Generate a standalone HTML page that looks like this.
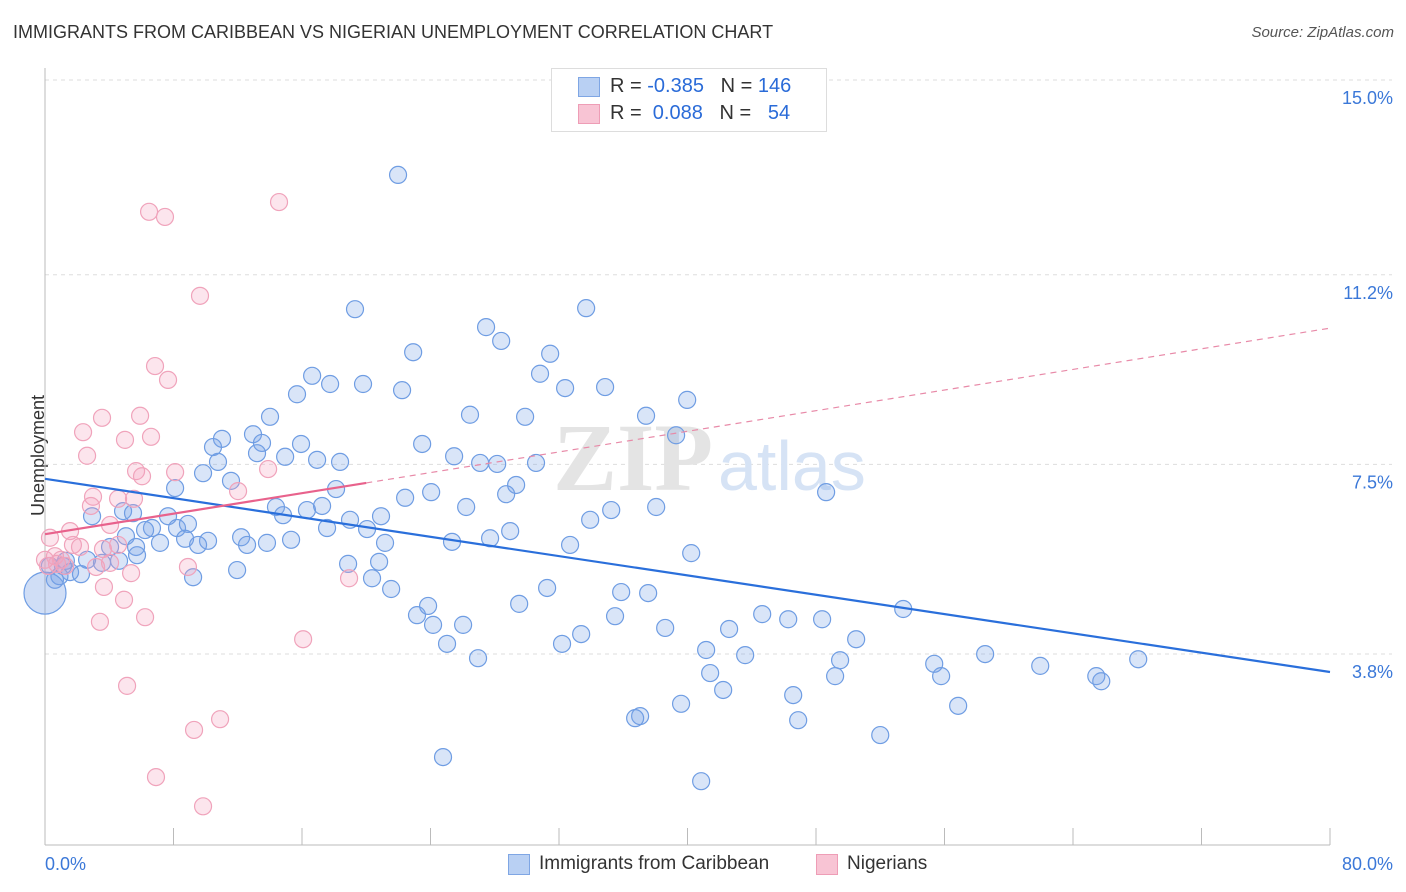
<!DOCTYPE html>
<html><head><meta charset="utf-8">
<style>
body{margin:0;background:#fff;font-family:"Liberation Sans",sans-serif;}
#wrap{position:relative;width:1406px;height:892px;overflow:hidden;}
.t{position:absolute;white-space:nowrap;}
</style></head>
<body>
<div id="wrap">
<div class="t" style="left:13px;top:22px;font-size:18px;color:#333;">IMMIGRANTS FROM CARIBBEAN VS NIGERIAN UNEMPLOYMENT CORRELATION CHART</div>
<div class="t" style="right:12px;top:24px;font-size:15px;color:#555;font-style:italic;">Source: ZipAtlas.com</div>
<div class="t" style="left:-22px;top:445px;font-size:18px;color:#333;transform:rotate(-90deg);">Unemployment</div>
<svg id="plot" width="1406" height="892" style="position:absolute;left:0;top:0"></svg>
<div style="position:absolute;left:551px;top:68px;width:274px;height:62px;border:1px solid #ddd;background:#fff;font-size:20px;">
 <div style="position:absolute;left:26px;top:8px;width:20px;height:18px;background:#b9d0f3;border:1px solid #7fa6e4;"></div>
 <div class="t" style="left:58px;top:6px;color:#333;">R = <span style="color:#2a6bd8">-0.385</span>&nbsp;&nbsp;&nbsp;N = <span style="color:#2a6bd8">146</span></div>
 <div style="position:absolute;left:26px;top:35px;width:20px;height:18px;background:#f8c4d4;border:1px solid #ee9db6;"></div>
 <div class="t" style="left:58px;top:33px;color:#333;">R = &nbsp;<span style="color:#2a6bd8">0.088</span>&nbsp;&nbsp;&nbsp;N = &nbsp;&nbsp;<span style="color:#2a6bd8">54</span></div>
</div>
<div style="position:absolute;left:508px;top:854px;width:20px;height:19px;background:#b9d0f3;border:1px solid #7fa6e4;"></div>
<div class="t" style="left:539px;top:853px;font-size:19px;color:#333;">Immigrants from Caribbean</div>
<div style="position:absolute;left:816px;top:854px;width:20px;height:19px;background:#f8c4d4;border:1px solid #ee9db6;"></div>
<div class="t" style="left:847px;top:853px;font-size:19px;color:#333;">Nigerians</div>
</div>
<script>
const xTicks=[0,10,20,30,40,50,60,70,80];
const yTicks=[15.0,11.2,7.5,3.8];
const yTickLabels=["15.0%","11.2%","7.5%","3.8%"];
const xEndLabels=["0.0%","80.0%"];
const caribX=[21.98,19.30,33.69,27.46,28.40,22.92,31.45,30.82,16.63,15.69,17.75,19.80,22.23,32.38,34.87,39.98,14.01,26.46,29.89,37.42,12.95,11.02,10.46,13.51,15.94,23.48,39.29,13.20,14.95,10.77,16.94,18.37,25.47,27.09,28.15,30.57,9.84,11.58,8.10,18.12,29.33,28.71,24.04,22.42,48.63,14.38,16.31,17.25,26.22,35.25,38.05,2.93,4.86,5.48,7.66,14.82,18.99,20.92,33.94,6.66,6.23,8.22,8.90,17.56,20.05,28.96,5.04,7.16,8.72,10.15,12.21,13.82,15.32,21.17,25.34,27.71,32.69,4.05,5.67,9.53,12.58,2.62,4.61,5.73,40.23,18.87,20.80,1.12,0.62,1.56,2.24,3.55,9.22,11.96,20.36,21.55,31.26,35.87,37.55,23.85,29.52,23.16,24.16,26.03,35.49,44.65,46.27,48.38,53.43,33.38,38.61,42.59,32.19,25.03,26.96,41.16,43.59,50.50,49.50,55.36,55.79,58.53,61.96,65.45,65.76,68.06,41.41,49.19,42.22,46.58,39.60,56.85,37.05,36.74,46.89,52.00,24.78,40.85,1.3,0.3,0.9];
const caribY=[13.48,10.86,10.88,10.51,10.24,10.02,9.99,9.60,9.56,9.20,9.40,9.40,9.28,9.32,9.34,9.09,8.76,8.80,8.76,8.78,8.42,8.33,8.17,8.25,8.23,8.23,8.40,8.05,7.98,7.88,7.92,7.88,7.99,7.86,7.84,7.86,7.66,7.51,7.37,7.35,7.43,7.25,7.29,7.18,7.29,7.00,6.94,7.02,7.00,6.94,7.00,6.82,6.92,6.88,6.82,6.84,6.75,6.82,6.75,6.59,6.55,6.59,6.67,6.59,6.57,6.53,6.43,6.30,6.38,6.34,6.41,6.30,6.36,6.30,6.32,6.39,6.26,6.22,6.22,6.26,6.26,5.97,5.95,6.06,6.10,5.89,5.93,5.85,5.58,5.73,5.69,5.91,5.63,5.77,5.61,5.40,5.42,5.34,5.32,5.07,5.11,4.89,4.70,4.70,4.87,4.91,4.81,4.81,5.01,4.52,4.64,4.62,4.33,4.33,4.05,4.21,4.11,4.42,4.01,3.94,3.70,4.13,3.90,3.70,3.60,4.03,3.76,3.70,3.43,3.33,3.16,3.12,2.92,2.88,2.84,2.55,2.12,1.65,5.95,5.85,5.65];
const nigX=[6.48,7.47,14.57,9.65,6.85,7.66,3.55,5.92,2.37,4.98,6.60,2.62,5.67,6.04,8.10,13.89,12.02,2.99,2.86,4.55,5.54,4.05,1.56,0.31,1.74,3.61,4.55,0.62,1.00,1.25,2.18,0.19,3.18,4.05,5.36,8.90,18.93,3.67,4.92,6.23,3.42,16.07,5.11,10.90,9.28,6.91,9.84,0.75,0];
const nigY=[12.76,12.66,12.95,11.12,9.75,9.48,8.74,8.78,8.46,8.31,8.37,8.00,7.70,7.60,7.68,7.74,7.31,7.20,7.02,7.16,7.16,6.65,6.53,6.40,6.26,6.18,6.26,6.04,5.97,5.85,6.22,5.85,5.83,5.91,5.71,5.83,5.61,5.44,5.19,4.85,4.76,4.42,3.51,2.86,2.65,1.73,1.16,5.89,5.97];
const caribTrend=[7.55,3.78];
const nigTrend=[6.47,7.47,10.49];
const bigPoint=[0,5.32];

const NS="http://www.w3.org/2000/svg";
const svg=document.getElementById('plot');
const X=v=>45+v/80*1285;
const Y=v=>97+(15-v)*51.25;
function mk(tag,attrs){const e=document.createElementNS(NS,tag);for(const k in attrs)e.setAttribute(k,attrs[k]);svg.appendChild(e);return e;}

yTicks.forEach((v,i)=>{
 const g=mk('line',{x1:45,x2:1392,y1:Y(v)-17,y2:Y(v)-17,stroke:'#ddd','stroke-dasharray':'4,4'});
 
 
 const t=mk('text',{x:1393,y:Y(v)+7,'text-anchor':'end','font-size':18,fill:'#3b78d8','font-family':'Liberation Sans'});
 t.textContent=yTickLabels[i];
 
 
});
const ax=mk('line',{x1:45,x2:45,y1:68,y2:845,stroke:'#bbb'});


const bx=mk('line',{x1:45,x2:1330,y1:845,y2:845,stroke:'#bbb'});


for(let v=0;v<=80;v+=8){
 const tk=mk('line',{x1:X(v),x2:X(v),y1:828,y2:845,stroke:'#bbb'});
 
 
}
const xl0=mk('text',{x:45,y:870,'font-size':18,fill:'#3b78d8','font-family':'Liberation Sans'});
xl0.textContent=xEndLabels[0];


const xl1=mk('text',{x:1393,y:870,'text-anchor':'end','font-size':18,fill:'#3b78d8','font-family':'Liberation Sans'});
xl1.textContent=xEndLabels[1];



const w1=mk('text',{x:553,y:490,'font-size':96,fill:'#e4e4e4','font-family':'Liberation Serif','font-weight':'bold'});
w1.textContent='ZIP';


const w2=mk('text',{x:718,y:490,'font-size':70,fill:'#d6e3f5','font-family':'Liberation Sans'});
w2.textContent='atlas';



caribX.forEach((x,i)=>{
 const c=mk('circle',{cx:X(x),cy:Y(caribY[i]),r:8.5,fill:'rgba(120,160,230,0.28)',stroke:'#6f9de3','stroke-width':1.2});
 
 
});
const bp=mk('circle',{cx:X(bigPoint[0]),cy:Y(bigPoint[1]),r:21,fill:'rgba(120,160,230,0.35)',stroke:'#6f9de3','stroke-width':1.2});


nigX.forEach((x,i)=>{
 const c=mk('circle',{cx:X(x),cy:Y(nigY[i]),r:8.5,fill:'rgba(245,160,190,0.28)',stroke:'#f0a3bb','stroke-width':1.2});
 
 
});
const tl=mk('line',{x1:X(0),y1:Y(caribTrend[0]),x2:X(80),y2:Y(caribTrend[1]),stroke:'#2a6fdb','stroke-width':2.2});


const pd=mk('line',{x1:X(20),y1:Y(nigTrend[1]),x2:X(80),y2:Y(nigTrend[2]),stroke:'#e88aa8','stroke-width':1.2,'stroke-dasharray':'6,5'});


const ps=mk('line',{x1:X(0),y1:Y(nigTrend[0]),x2:X(20),y2:Y(nigTrend[1]),stroke:'#e8628c','stroke-width':2.2});


</script>
</body></html>
